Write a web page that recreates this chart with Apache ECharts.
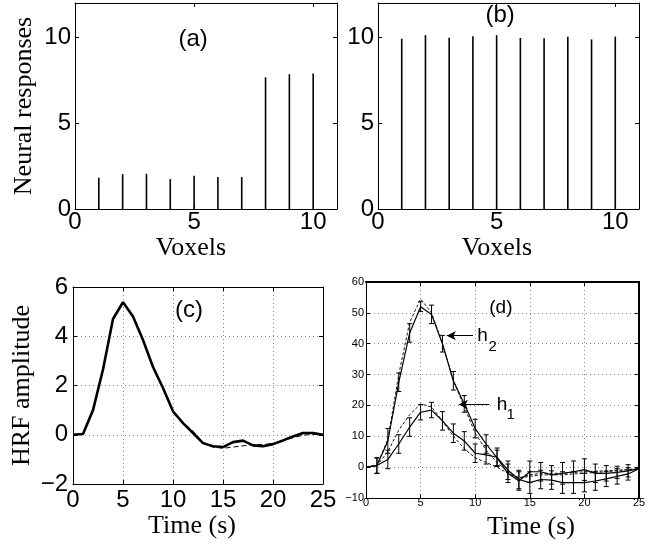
<!DOCTYPE html>
<html>
<head>
<meta charset="utf-8">
<script src="https://cdn.jsdelivr.net/npm/echarts@6/dist/echarts.min.js"></script>
<style>
html,body{margin:0;padding:0;background:#fff;}
#c{width:662px;height:554px;}
</style>
</head>
<body>
<div id="c"></div>
<script>
// ---------- data ----------
const voxels = [1, 2, 3, 4, 5, 6, 7, 8, 9, 10];
const respA = [1.82, 2.03, 2.05, 1.74, 1.94, 1.86, 1.86, 7.67, 7.85, 7.9];
const respB = [9.92, 10.13, 9.98, 10.06, 10.13, 9.96, 9.94, 10.04, 9.88, 10.04];

const timeC = [0,1,2,3,4,5,6,7,8,9,10,11,12,13,14,15,16,17,18,19,20,21,22,23,24,25];
const hrfEst  = [0, 0.03, 1.0, 2.65, 4.7, 5.38, 4.8, 3.85, 2.75, 1.9, 0.95, 0.47, 0.07, -0.34, -0.47, -0.5, -0.3, -0.24, -0.43, -0.47, -0.38, -0.23, -0.07, 0.07, 0.07, 0.0];
const hrfTrue = [0, 0.03, 1.0, 2.65, 4.7, 5.38, 4.8, 3.85, 2.75, 1.9, 0.95, 0.5, 0.15, -0.3, -0.5, -0.55, -0.5, -0.45, -0.4, -0.4, -0.35, -0.25, -0.12, -0.02, 0.02, 0.0];

const timeD = [0,1,2,3,4,5,6,7,8,9,10,11,12,13,14,15,16,17,18,19,20,21,22,23,24,25];
const h2Est  = [0, 0.5, 8.5, 27.5, 43.5, 52, 49.5, 40, 28, 20.5, 12.5, 7.5, 3, -2, -4.5, -1.5, -1.5, -2.5, -2, -1.5, -0.8, -2, -2, -1.7, -1.2, -0.5];
const h2Err  = [0, 2.5, 4, 3, 3, 1.6, 3, 2.7, 3, 2.7, 3, 3, 2.5, 3, 3, 3.5, 3, 3, 3.5, 3.5, 3.5, 3, 2.5, 2, 2, 0];
const h1Est  = [0, 0.5, 2.5, 7.5, 13, 17.8, 18.5, 15, 11, 8.5, 4.5, 4, 3.2, -1, -4, -5, -4, -4.2, -5, -5, -5, -4.5, -3.8, -3, -2.2, -0.5];
const h1Err  = [0, 2.5, 3, 3, 3, 2.5, 2.5, 3, 3, 3, 3, 3, 3, 3, 3, 3.5, 3, 3, 3.5, 3.5, 3, 3, 2.5, 2.5, 2, 0];
const h2True = [0, 0.5, 9, 30, 47, 54.5, 50, 40, 28, 19.5, 11, 5.5, 1.5, -1.5, -3.5, -2.5, -2, -2, -2, -1.7, -1.5, -1.3, -1.2, -1, -0.8, -0.5];
const h1True = [0, 0.5, 5, 12, 17, 20.5, 19.5, 15, 10, 6, 3, 1.5, 0, -2, -3.5, -3, -2.5, -2.5, -2.5, -2.2, -2, -1.7, -1.5, -1.2, -0.8, -0.5];

const panelLabels = ['(a)', '(b)', '(c)', '(d)'];
const axisNames = { voxels: 'Voxels', neural: 'Neural responses', hrf: 'HRF amplitude', time: 'Time (s)' };

// ---------- helpers ----------
const SANS = 'Liberation Sans';
const SERIF = 'Liberation Serif';
const minusFmt = v => String(v).replace('-', '\u2212');
const gridLine = { show: true, lineStyle: { color: '#8a8a8a', width: 1, type: [1, 3] } };

function pair(gi, kind, o) {
  const isX = kind === 'x';
  const main = {
    type: 'value', gridIndex: gi, min: o.min, max: o.max, interval: o.interval,
    position: isX ? 'bottom' : 'left',
    axisLine: { onZero: false, lineStyle: { color: '#000', width: o.w1 || 1 } },
    axisTick: { inside: true, length: 4, lineStyle: { color: '#000' } },
    axisLabel: { color: '#000', fontFamily: SANS, fontSize: o.fs, margin: o.margin, formatter: minusFmt, showMaxLabel: o.showMax !== false ? null : false },
    splitLine: o.grid ? gridLine : { show: false },
    name: o.name || '', nameLocation: 'middle', nameGap: o.nameGap,
    nameTextStyle: { color: '#000', fontFamily: SERIF, fontSize: 26, padding: o.namePad || 0 }
  };
  const other = {
    type: 'value', gridIndex: gi, min: o.min, max: o.max, interval: o.interval,
    position: isX ? 'top' : 'right',
    axisLine: { onZero: false, lineStyle: { color: '#000', width: o.w2 || 1 } },
    axisTick: { inside: true, length: 4, lineStyle: { color: '#000' } },
    axisLabel: { show: false }, splitLine: { show: false }
  };
  return [main, other];
}

function errRender(params, api) {
  const x = api.value(0), lo = api.value(1), hi = api.value(2);
  if (hi - lo <= 0) return null;
  const p1 = api.coord([x, hi]), p2 = api.coord([x, lo]);
  const w = 2.5, st = { stroke: '#000', lineWidth: 1 };
  return { type: 'group', children: [
    { type: 'line', shape: { x1: p1[0], y1: p1[1], x2: p2[0], y2: p2[1] }, style: st },
    { type: 'line', shape: { x1: p1[0] - w, y1: p1[1], x2: p1[0] + w, y2: p1[1] }, style: st },
    { type: 'line', shape: { x1: p2[0] - w, y1: p2[1], x2: p2[0] + w, y2: p2[1] }, style: st }
  ]};
}

function textPoint(xi, yi, x, y, txt, fs) {
  return {
    type: 'scatter', xAxisIndex: xi, yAxisIndex: yi, silent: true, symbolSize: 1, z: 10,
    itemStyle: { color: 'rgba(0,0,0,0)', opacity: 1 },
    label: { show: true, position: 'inside', formatter: txt, color: '#000', opacity: 1, fontFamily: SANS, fontSize: fs },
    data: [[x, y]]
  };
}

const zip = (a, b) => a.map((v, i) => [v, b[i]]);

const option = {
  animation: false,
  backgroundColor: '#fff',
  grid: [
    { left: 75, top: 3, width: 262, height: 206 },
    { left: 378, top: 3, width: 261, height: 206 },
    { left: 73, top: 287, width: 250, height: 197 },
    { left: 366, top: 282, width: 273, height: 216 }
  ],
  xAxis: [
    ...pair(0, 'x', { min: 0, max: 11, interval: 5, fs: 24, margin: 1, showMax: false, name: axisNames.voxels, nameGap: 19, namePad: [0, 30, 0, 0] }),
    ...pair(1, 'x', { min: 0, max: 11, interval: 5, fs: 24, margin: 1, showMax: false, name: axisNames.voxels, nameGap: 19, namePad: [0, 23, 0, 0] }),
    ...pair(2, 'x', { min: 0, max: 25, interval: 5, fs: 24, margin: 4, grid: true, name: axisNames.time, nameGap: 15, namePad: [0, 12, 0, 0] }),
    ...pair(3, 'x', { min: 0, max: 25, interval: 5, fs: 11, margin: -1, grid: true, name: axisNames.time, nameGap: 16, namePad: [0, 0, 0, 57], w2: 2 })
  ],
  yAxis: [
    ...pair(0, 'y', { min: 0, max: 12, interval: 5, fs: 24, margin: 4, showMax: false, name: axisNames.neural, nameGap: 38 }),
    ...pair(1, 'y', { min: 0, max: 12, interval: 5, fs: 24, margin: 4, showMax: false }),
    ...pair(2, 'y', { min: -2, max: 6, interval: 2, fs: 24, margin: 5, grid: true, name: axisNames.hrf, nameGap: 38 }),
    ...pair(3, 'y', { min: -10, max: 60, interval: 10, fs: 11, margin: 2, grid: true, w2: 2 })
  ],
  series: [
    { type: 'bar', xAxisIndex: 0, yAxisIndex: 0, barWidth: 1.6, itemStyle: { color: '#000' }, data: zip(voxels, respA) },
    { type: 'bar', xAxisIndex: 2, yAxisIndex: 2, barWidth: 1.6, itemStyle: { color: '#000' }, data: zip(voxels, respB) },

    { type: 'line', xAxisIndex: 4, yAxisIndex: 4, symbol: 'none', lineStyle: { color: '#000', width: 1, type: [5, 3] }, data: zip(timeC, hrfTrue) },
    { type: 'line', xAxisIndex: 4, yAxisIndex: 4, symbol: 'none', lineStyle: { color: '#000', width: 2.6 }, data: zip(timeC, hrfEst) },

    { type: 'line', xAxisIndex: 6, yAxisIndex: 6, symbol: 'none', lineStyle: { color: '#000', width: 0.9, type: [3, 2] }, data: zip(timeD, h2True) },
    { type: 'line', xAxisIndex: 6, yAxisIndex: 6, symbol: 'none', lineStyle: { color: '#000', width: 0.9, type: [3, 2] }, data: zip(timeD, h1True) },
    { type: 'line', xAxisIndex: 6, yAxisIndex: 6, symbol: 'none', lineStyle: { color: '#000', width: 1.2 }, data: zip(timeD, h2Est),
      markLine: { silent: true, symbol: ['none', 'arrow'], symbolSize: [7, 9], lineStyle: { color: '#000', width: 1, type: 'solid' }, label: { show: false },
        data: [
          [{ coord: [9.8, 42.6] }, { coord: [7.4, 42.6] }],
          [{ coord: [11.3, 20.3] }, { coord: [8.5, 20.3] }]
        ] } },
    { type: 'line', xAxisIndex: 6, yAxisIndex: 6, symbol: 'none', lineStyle: { color: '#000', width: 1.2 }, data: zip(timeD, h1Est) },
    { type: 'custom', xAxisIndex: 6, yAxisIndex: 6, renderItem: errRender, encode: { x: 0, y: [1, 2] },
      data: timeD.map((t, i) => [t, h2Est[i] - h2Err[i], h2Est[i] + h2Err[i]]) },
    { type: 'custom', xAxisIndex: 6, yAxisIndex: 6, renderItem: errRender, encode: { x: 0, y: [1, 2] },
      data: timeD.map((t, i) => [t, h1Est[i] - h1Err[i], h1Est[i] + h1Err[i]]) },

    textPoint(0, 0, 4.96, 9.9, panelLabels[0], 24),
    textPoint(2, 2, 5.15, 11.3, panelLabels[1], 24),
    textPoint(4, 4, 11.6, 5.04, panelLabels[2], 24),
    textPoint(6, 6, 12.35, 51.8, panelLabels[3], 19),
    textPoint(6, 6, 10.67, 42.6, 'h', 19),
    textPoint(6, 6, 11.6, 39, '2', 15),
    textPoint(6, 6, 12.45, 20.3, 'h', 19),
    textPoint(6, 6, 13.25, 16.8, '1', 15)
  ]
};

const chart = echarts.init(document.getElementById('c'), null, { renderer: 'canvas' });
chart.setOption(option);
</script>
</body>
</html>
